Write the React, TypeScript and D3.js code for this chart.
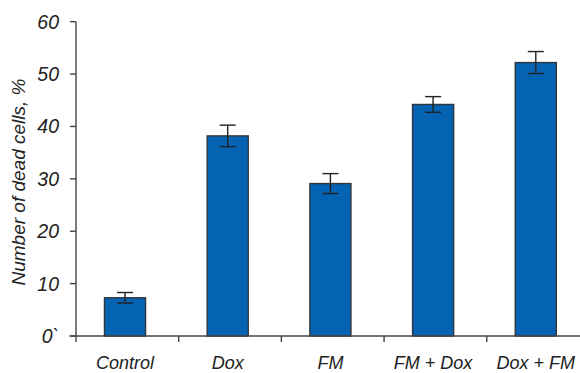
import React from "react";
import * as d3 from "d3";

const categories = ["Control", "Dox", "FM", "FM + Dox", "Dox + FM"];
const means = [7.3, 38.2, 29.1, 44.2, 52.2];
const errors = [1.0, 2.05, 1.9, 1.5, 2.1];
const yTicks = [0, 10, 20, 30, 40, 50, 60];
const yTickLabels = ["0`", "10", "20", "30", "40", "50", "60"];
const yLabel = "Number of dead cells, %";

const W = 580;
const H = 373;
const FONT = "'Liberation Sans', Arial, Helvetica, sans-serif";

export default function App() {
  const x = d3
    .scaleBand<string>()
    .domain(categories)
    .range([76, 586.8])
    .paddingInner(0.6)
    .paddingOuter(0.287);
  const y = d3.scaleLinear().domain([0, 60]).range([336, 21.7]);
  const step = x.step();
  const x0 = 76;
  const tickXs = d3.range(0, categories.length + 1).map((i) => x0 + i * step);
  const bw = x.bandwidth();
  const capW = 16;

  return (
    <svg
      width={W}
      height={H}
      style={{ position: "absolute", left: 0, top: 0, background: "#fff" }}
      fontFamily={FONT}
    >
      <rect x={0} y={0} width={W} height={H} fill="#fff" />
      {categories.map((c, i) => (
        <rect
          key={c}
          x={(x(c) as number) - 1}
          y={y(means[i])}
          width={bw}
          height={y(0) - y(means[i])}
          fill="#0563b4"
          stroke="#30363c"
          strokeWidth={1.4}
        />
      ))}
      {categories.map((c, i) => {
        const cx = (x(c) as number) - 1 + bw / 2;
        const lo = y(means[i] - errors[i]);
        const hi = y(means[i] + errors[i]);
        return (
          <g key={c + "e"} stroke="#222" strokeWidth={1.4}>
            <line x1={cx} x2={cx} y1={lo} y2={hi} />
            <line x1={cx - capW / 2} x2={cx + capW / 2} y1={hi} y2={hi} />
            <line x1={cx - capW / 2} x2={cx + capW / 2} y1={lo} y2={lo} />
          </g>
        );
      })}
      <line x1={76} x2={76} y1={y(60)} y2={y(0)} stroke="#444" strokeWidth={1.4} />
      {yTicks.map((t, i) => (
        <g key={t}>
          <line x1={70} x2={76} y1={y(t)} y2={y(t)} stroke="#444" strokeWidth={1.4} />
          <text
            x={59}
            y={y(t)}
            dy="0.36em"
            textAnchor="end"
            fontSize={19.5}
            fontStyle="italic"
            fill="#222"
          >
            {yTickLabels[i]}
          </text>
        </g>
      ))}
      <line x1={69.5} x2={W} y1={y(0)} y2={y(0)} stroke="#444" strokeWidth={1.4} />
      {tickXs.map((tx, i) => (
        <line key={i} x1={tx} x2={tx} y1={y(0)} y2={y(0) + 6} stroke="#444" strokeWidth={1.4} />
      ))}
      {categories.map((c) => (
        <text
          key={c + "l"}
          x={(x(c) as number) - 1 + bw / 2}
          y={369}
          textAnchor="middle"
          fontSize={18}
          fontStyle="italic"
          fill="#222"
        >
          {c}
        </text>
      ))}
      <text
        transform={`translate(25, 182) rotate(-90)`}
        textAnchor="middle"
        fontSize={19}
        fontStyle="italic"
        fill="#222"
      >
        {yLabel}
      </text>
    </svg>
  );
}
